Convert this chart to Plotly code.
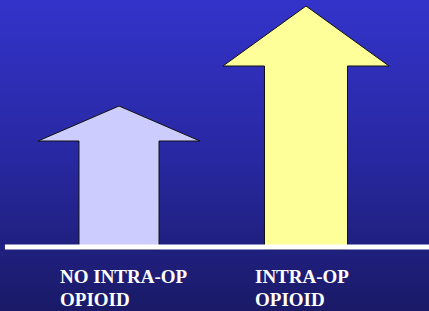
import plotly.graph_objects as go
import numpy as np

# ---- data ----
label_line1 = ["NO INTRA-OP", "INTRA-OP"]
label_line2 = ["OPIOID", "OPIOID"]
values = [141, 241]            # arrow tip heights above baseline
head_heights = [35, 60]
arrow_colors = ["#ccccff", "#ffff99"]

# ---- geometry (style) ----
head_half = [0.433, 0.444]
shaft_half = [0.214, 0.222]
xr = [-119 / 187, 310 / 187]
yr = [-64, 247]

fig = go.Figure()

# background gradient via heatmap
n = 60
ys = np.linspace(yr[0], yr[1], n + 1)
z = [[i] for i in range(n)]
fig.add_trace(go.Heatmap(
    x=[xr[0] - 0.1, xr[1] + 0.1], y=ys, z=z,
    colorscale=[[0, "rgb(26,26,104)"], [0.5, "rgb(40,40,162)"], [1, "rgb(51,51,202)"]],
    showscale=False, hoverinfo="skip", zsmooth="best"))

for i, (v, h, c) in enumerate(zip(values, head_heights, arrow_colors)):
    hw, sw = head_half[i], shaft_half[i]
    xs = [i - sw, i - sw, i - hw, i, i + hw, i + sw, i + sw, i - sw]
    yv = [-2, v - h, v - h, v, v - h, v - h, -2, -2]
    fig.add_trace(go.Scatter(x=xs, y=yv, mode="lines", fill="toself",
                             fillcolor=c, line=dict(color="#111111", width=1),
                             hoverinfo="skip", showlegend=False))

fig.add_shape(type="line", x0=-0.61, x1=xr[1] + 0.1, y0=0, y1=0,
              line=dict(color="white", width=5))

xshifts = [-61, -53]
font = dict(family="'Liberation Serif', 'Times New Roman', serif", size=19, color="white")
for i in range(len(label_line1)):
    for txt, yy in ((label_line1[i], -17), (label_line2[i], -40)):
        fig.add_annotation(x=i, y=yy, text="<b>" + txt + "</b>", showarrow=False,
                           xanchor="left", yanchor="top", align="left",
                           xshift=xshifts[i], font=font)

fig.update_xaxes(range=xr, visible=False, fixedrange=True)
fig.update_yaxes(range=yr, visible=False, fixedrange=True)
fig.update_layout(width=429, height=311, margin=dict(l=0, r=0, t=0, b=0),
                  showlegend=False, paper_bgcolor="rgb(40,40,160)",
                  plot_bgcolor="rgb(40,40,160)")
fig.write_html("out.html", config={"displayModeBar": False},
               post_script="document.body.style.margin='0';document.body.style.overflow='hidden';")
